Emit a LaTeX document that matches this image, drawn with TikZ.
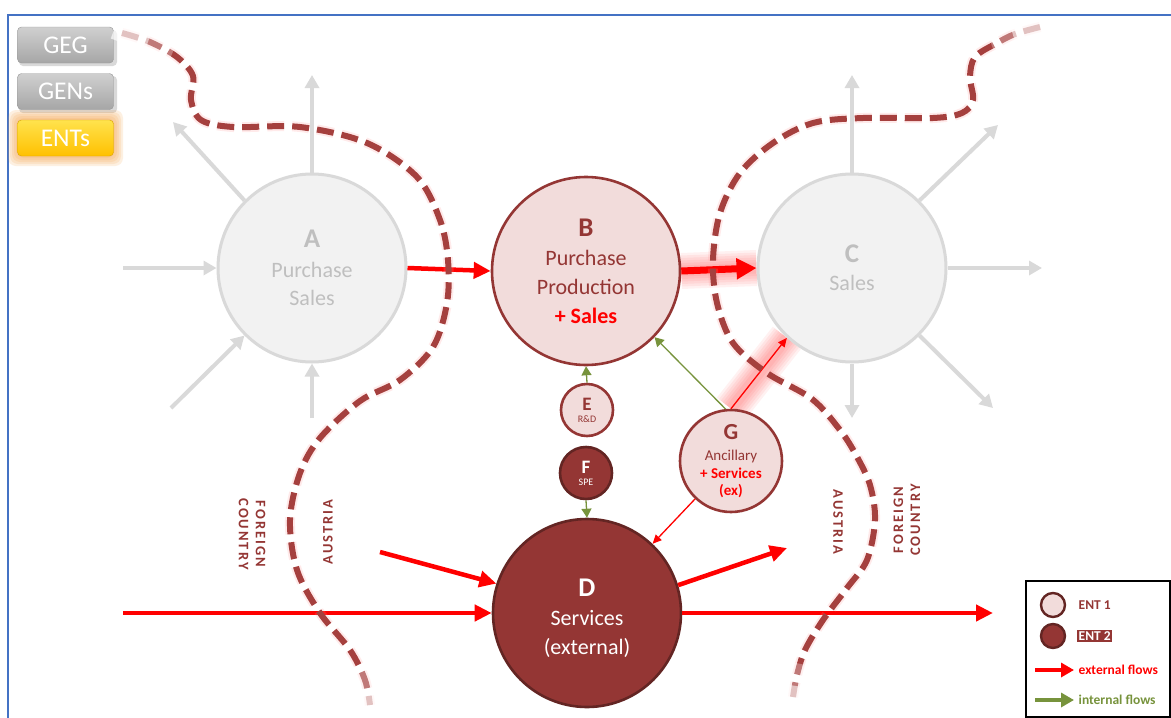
\documentclass[tikz,border=0pt]{standalone}
\usepackage{fontspec}
\setmainfont{Carlito}
\newfontfamily\trackfont[LetterSpace=14]{Carlito}
\usetikzlibrary{arrows.meta}
\pgfdeclarelayer{background}
\pgfsetlayers{background,main}
\definecolor{entpink}{HTML}{F2DCDB}
\definecolor{entdark}{HTML}{943634}
\definecolor{entdeep}{HTML}{632523}
\definecolor{bordred}{HTML}{A5403E}
\definecolor{ghostfill}{HTML}{F2F2F2}
\definecolor{ghostline}{HTML}{D9D9D9}
\definecolor{ghosttext}{HTML}{BFBFBF}
\definecolor{flowred}{HTML}{FF0000}
\definecolor{flowgreen}{HTML}{77933C}
\definecolor{frameblue}{HTML}{4472C4}
\definecolor{btntop}{HTML}{D0D0D0}
\definecolor{btnbot}{HTML}{A6A6A6}
\definecolor{btnedge}{HTML}{999999}
\definecolor{enttop}{HTML}{FFE34D}
\definecolor{entbot}{HTML}{FFC000}
\definecolor{entedge}{HTML}{D9A300}
\definecolor{entglow}{HTML}{F5A24A}
\begin{document}
\begin{tikzpicture}[x=1pt,y=-1pt,
  ghost/.style={circle, draw=ghostline, fill=ghostfill, line width=3pt, minimum size=188pt,
    inner sep=0pt, text=ghosttext, align=center, font=\fontsize{22}{28}\selectfont},
  entone/.style={circle, draw=entdark, fill=entpink, line width=2.6pt, inner sep=0pt,
    text=entdark, align=center},
  enttwo/.style={circle, draw=entdeep, fill=entdark, line width=2.6pt, inner sep=0pt,
    text=white, align=center},
  ghostarrow/.style={draw=ghostline, line width=4pt, -{Triangle[length=13pt,width=14pt]}},
  extflow/.style={draw=flowred, line width=4.5pt, -{Triangle[length=17pt,width=16pt]}},
  thinred/.style={draw=flowred, line width=1.3pt, -{Triangle[length=9pt,width=8pt]}},
  intflow/.style={draw=flowgreen, line width=1.3pt, -{Triangle[length=9pt,width=10pt]}},
  redglow/.style={draw=flowred, opacity=0.055},
  border/.style={draw=bordred, line width=6pt, dash pattern=on 17pt off 8pt},
  borderglow/.style={draw=flowred!40!white, line width=10pt, dash pattern=on 17pt off 8pt, opacity=0.2},
  fadeout/.style={draw=white, line width=18pt},
  btn/.style={rounded corners=4pt, minimum width=96pt, minimum height=36pt, text=white,
    font=\fontsize{25.5}{25.5}\selectfont, inner sep=0pt},
  countrylbl/.style={text=entdark, font=\trackfont\bfseries\fontsize{14.5}{17}\selectfont, align=center},
  legendtxt/.style={anchor=west, font=\bfseries\fontsize{13.5}{15}\selectfont, inner sep=1.5pt},
]
\useasboundingbox (0,0) rectangle (1171,718);
\begin{pgfonlayer}{background}
  \fill[white] (0,0) rectangle (1171,718);
\end{pgfonlayer}

% outer frame
\draw[frameblue, line width=1.5pt] (8,740) -- (8,15) -- (1190,15);

% level buttons
\fill[black, opacity=.15, rounded corners=4pt] (19,30) rectangle (117,66);
\fill[black, opacity=.15, rounded corners=4pt] (19,76) rectangle (117,113);
\foreach \g in {9,7,5,3,1} {
  \fill[entglow, opacity=.16, rounded corners=8pt] (17-\g,119-\g) rectangle (114+\g,157+\g);
}
\node[btn, top color=btntop, bottom color=btnbot, draw=btnedge] (geg) at (65.5,45) {GEG};
\node[btn, top color=btntop, bottom color=btnbot, draw=btnedge] (gens) at (65.5,91.5) {GENs};
\node[btn, top color=enttop, bottom color=entbot, draw=entedge] (ents) at (65.5,138) {ENTs};

% enterprises
\node[ghost] (A) at (312,268) {{\fontsize{27}{28}\selectfont\bfseries A}\\[2pt] Purchase\\ Sales};
\node[ghost] (C) at (852,268) {{\fontsize{27}{28}\selectfont\bfseries C}\\ Sales};
\node[entone, minimum size=188pt, font=\fontsize{22}{29}\selectfont] (B) at (586,271)
  {{\fontsize{27}{29}\selectfont\bfseries B}\\ Purchase\\ Production\\ {\color{flowred}\bfseries + Sales}};
\node[enttwo, draw=entdeep, minimum size=188pt, font=\fontsize{22}{29}\selectfont] (D) at (587,613)
  {\rule{0pt}{28pt}{\fontsize{27}{29}\selectfont\bfseries D}\\ Services\\ (external)};
\node[entone, minimum size=52pt, font=\fontsize{10}{12}\selectfont] (E) at (587,410)
  {{\fontsize{19}{12}\selectfont\bfseries E}\\ R\&D};
\node[enttwo, minimum size=52pt, font=\fontsize{10}{12}\selectfont] (F) at (586,473)
  {{\fontsize{19}{12}\selectfont\bfseries F}\\ SPE};
\node[entone, minimum size=102pt, font=\fontsize{15}{17.5}\selectfont] (G) at (731,461)
  {{\fontsize{23}{17.5}\selectfont\bfseries G}\\[4pt] Ancillary\\ {\color{flowred}\bfseries + Services}\\ {\color{flowred}\bfseries (ex)}};

% free ends of the outer flows
\coordinate (aw) at (123,268);
\coordinate (asw) at (171,408);
\coordinate (as) at (312,418);
\coordinate (an) at (312,75);
\coordinate (anw) at (173,122);
\coordinate (cn) at (852,75);
\coordinate (cne) at (998,125);
\coordinate (ce) at (1042,268);
\coordinate (cse) at (993,408);
\coordinate (cs) at (852,418);
\coordinate (din) at (380,552);
\coordinate (dw) at (123,613);
\coordinate (dne) at (787,548);
\coordinate (de) at (993,613);

% flows of the third-party enterprises
\draw[ghostarrow] (aw) -- (A.west);
\draw[ghostarrow] (asw) -- (A.225);
\draw[ghostarrow] (as) -- (A.south);
\draw[ghostarrow] (A.north) -- (an);
\draw[ghostarrow] (A.135) -- (anw);
\draw[ghostarrow] (C.north) -- (cn);
\draw[ghostarrow] (C.45) -- (cne);
\draw[ghostarrow] (C.east) -- (ce);
\draw[ghostarrow] (C.-45) -- (cse);
\draw[ghostarrow] (C.south) -- (cs);

% soft glow behind highlighted flows
\begin{pgfonlayer}{background}
  \foreach \w in {36,31,26,21,16,11} {
    \draw[redglow, line width=\w pt] (B.east) -- (C.west);
    \draw[redglow, line width=\w pt] (G.90) -- (C.227);
  }
\end{pgfonlayer}

% external flows
\draw[extflow] (A.east) -- (B.west);
\draw[draw=flowred, line width=7pt, -{Triangle[length=20pt,width=20pt]}] (B.east) -- (C.west);
\draw[thinred] (G.90) -- (C.227);
\draw[thinred] (G) -- (D);
\draw[extflow] (din) -- (D.162);
\draw[extflow] (dw) -- (D.west);
\draw[extflow] (D.17) -- (dne);
\draw[extflow] (D.east) -- (de);

% internal flows
\draw[intflow] (E.north) -- (B.south);
\draw[intflow] (G.96) -- (B.316);
\draw[intflow] (F.south) -- (D.north);

% national borders
\foreach \sty in {borderglow,border} {
  \draw[\sty] plot[smooth, tension=0.55] coordinates {
    (122,33) (150,42) (177,57) (193,76) (191,100) (201,120) (233,127) (300,127)
    (367,143) (417,177) (440,220) (448,260) (447,303) (433,347) (400,380)
    (360,401) (320,438) (300,473) (290,520) (297,570) (320,613) (350,650)
    (365,680) (370,705)};
  \draw[\sty] plot[smooth, tension=0.55] coordinates {
    (1040,27) (1015,34) (997,43) (975,57) (970,77) (973,100) (962,113) (933,118)
    (863,118) (813,123) (773,143) (740,173) (720,213) (713,260) (717,303)
    (733,343) (767,373) (812,399) (840,430) (856,455) (870,485) (875,520)
    (867,560) (847,588) (823,620) (805,650) (797,675) (793,697)};
}
% borders fading out at their ends
\draw[fadeout, opacity=.55] (114,30) -- (148,42);
\draw[fadeout, opacity=.3] (114,30) -- (172,54);
\draw[fadeout, opacity=.55] (1048,25) -- (1013,35);
\draw[fadeout, opacity=.3] (1048,25) -- (992,46);
\draw[fadeout, opacity=.55] (371,714) -- (366,690);
\draw[fadeout, opacity=.3] (371,714) -- (359,668);
\draw[fadeout, opacity=.55] (793,706) -- (796,686);
\draw[fadeout, opacity=.3] (793,706) -- (801,664);

% territory labels
\node[countrylbl, rotate=-90] (lforeign) at (252,534) {FOREIGN\\COUNTRY};
\node[countrylbl, rotate=90] (laustria) at (328,532) {AUSTRIA};
\node[countrylbl, rotate=-90] (raustria) at (838,522) {AUSTRIA};
\node[countrylbl, rotate=90] (rforeign) at (907,520) {FOREIGN\\COUNTRY};

% legend
\draw[black, line width=1.5pt] (1026,581) rectangle (1170,717);
\node[entone, draw=entdeep, minimum size=24pt, line width=2.4pt] (lone) at (1053,605) {};
\node[legendtxt, text=entdark] (lonetxt) at (1077,605) {ENT 1};
\node[enttwo, minimum size=24pt, line width=2.4pt] (ltwo) at (1053,636) {};
\node[legendtxt, fill=entdark, text=white] (ltwotxt) at (1077,636) {ENT 2};
\coordinate (lext0) at (1035,670);
\coordinate (lext1) at (1074,670);
\draw[flowred, line width=4.5pt, -{Triangle[length=13pt,width=14pt]}] (lext0) -- (lext1);
\node[legendtxt, text=flowred] (lexttxt) at (1077,670) {external flows};
\coordinate (lint0) at (1035,700);
\coordinate (lint1) at (1074,700);
\draw[flowgreen, line width=4.5pt, -{Triangle[length=13pt,width=14pt]}] (lint0) -- (lint1);
\node[legendtxt, text=flowgreen] (linttxt) at (1077,700) {internal flows};
\end{tikzpicture}
\end{document}
